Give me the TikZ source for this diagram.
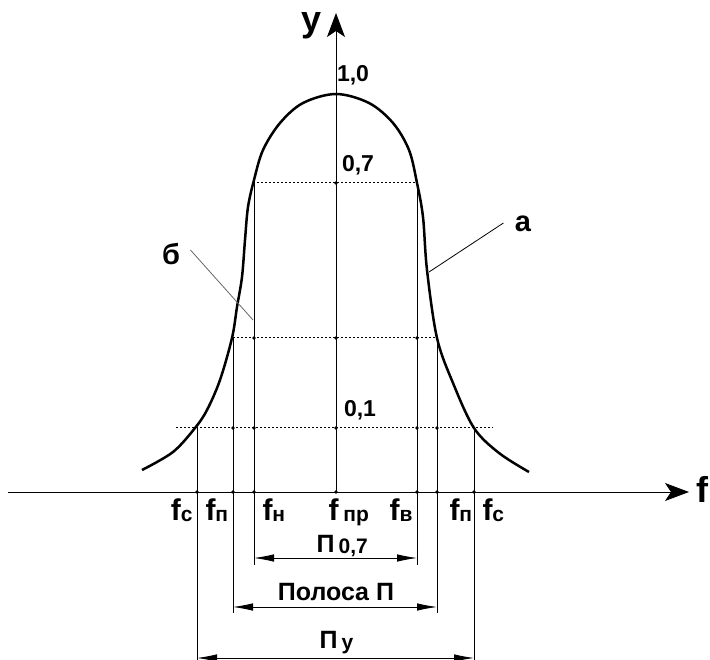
\documentclass[tikz,border=0pt]{standalone}
\usepackage{fontspec}
\setmainfont{Liberation Sans}
\usetikzlibrary{arrows.meta,calc}

% subscript set in a smaller size
\newcommand{\sbs}[1]{\raisebox{-1.5pt}{\fontsize{21}{21}\selectfont #1}}

\begin{document}
\begin{tikzpicture}[x=1pt, y=-1pt, >=Stealth, line width=1pt,
    every node/.style={font=\bfseries\fontsize{25}{27}\selectfont, inner sep=0pt},
    curve/.style={line width=2.5pt, line join=round},
    level/.style={line width=1pt, dash pattern=on 1.5pt off 2.5pt},
    axis/.style={line width=1pt, -{Stealth[length=24pt, width=18pt, inset=6pt]}},
    dimline/.style={line width=0.8pt, {Latex[length=20pt, width=7.5pt]}-{Latex[length=20pt, width=7.5pt]}},
    pointer/.style={line width=0.8pt},
    flabel/.style={font=\bfseries\fontsize{30}{32}\selectfont}]
    \useasboundingbox (0,0) rectangle (710,660);

    % axes
    \coordinate (O) at (336,492);
    \coordinate (XStart) at (8,492);
    \coordinate (XEnd) at (689,492);
    \coordinate (YEnd) at (336,13);
    \draw[axis] (XStart) -- (XEnd);
    \draw[axis] (O) -- (YEnd);
    \node[font=\bfseries\fontsize{36}{38}\selectfont] (LabY) at (312,26) {y};
    \node[font=\bfseries\fontsize{36}{38}\selectfont, anchor=east] (LabF) at (709,489) {f};

    % frequencies on the axis
    \coordinate (Fc1) at (197,492);
    \coordinate (Fp1) at (233,492);
    \coordinate (Fn)  at (254,492);
    \coordinate (Fv)  at (417,492);
    \coordinate (Fp2) at (437,492);
    \coordinate (Fc2) at (474,492);

    % levels 0,7 / middle / 0,1
    \coordinate (L07a) at (253,183);  \coordinate (L07b) at (418,183);
    \coordinate (Lmda) at (233,338);  \coordinate (Lmdb) at (437,338);
    \coordinate (L01a) at (176,428);  \coordinate (L01b) at (493,428);
    \draw[level] (L07a) -- (L07b);
    \draw[level] (Lmda) -- (Lmdb);
    \draw[level] (L01a) -- (L01b);

    % resonance curve
    \draw[curve] plot[smooth, tension=0.55] coordinates {
        (142,470) (173,452) (195,428) (207,410) (220,380) (232,338)
        (237,307) (242,277) (245,240) (248,207) (254,180) (263,150)
        (280,123) (303,103) (336,94) (369,103) (393,123) (409,150)
        (417,183) (423,217) (427,270) (437,338) (453,383) (474,428)
        (499,453) (529,472)};

    % vertical lines
    \draw (Fn |- L07a) -- ($(Fn)+(0,73)$) coordinate (Fn0);
    \draw (Fv |- L07a) -- ($(Fv)+(0,73)$) coordinate (Fv0);
    \draw (Fp1 |- Lmda) -- ($(Fp1)+(0,121)$) coordinate (Fp10);
    \draw (Fp2 |- Lmda) -- ($(Fp2)+(0,121)$) coordinate (Fp20);
    \draw (Fc1 |- L01a) -- ($(Fc1)+(0,170)$) coordinate (Fc10);
    \draw (Fc2 |- L01a) -- ($(Fc2)+(0,170)$) coordinate (Fc20);

    % dots on crossings
    \foreach \p in {Fc1,Fp1,Fn,O,Fv,Fp2,Fc2}
        \fill (\p) circle (1.8pt);
    \foreach \p in {Fp1,Fn,O,Fv,Fp2}
        \fill (\p |- L01a) circle (1.8pt);
    \foreach \p in {Fn,O,Fv}
        \fill (\p |- Lmda) circle (1.8pt);
    \fill (O |- L07a) circle (1.8pt);

    % level values
    \node[font=\bfseries\fontsize{23}{25}\selectfont] (Lab10) at (353,75) {1,0};
    \node[font=\bfseries\fontsize{23}{25}\selectfont] (Lab07) at (358,165) {0,7};
    \node[font=\bfseries\fontsize{23}{25}\selectfont] (Lab01) at (360,410) {0,1};

    % curve names
    \node[font=\bfseries\fontsize{29}{31}\selectfont] (LabA) at (523,224) {а};
    \node[font=\bfseries\fontsize{29}{31}\selectfont] (LabB) at (171,254) {б};
    \coordinate (PtA) at (429,272);
    \coordinate (PtB) at (253,320);
    \draw[pointer] ([xshift=-11pt, yshift=1pt]LabA.west) -- (PtA);
    \draw[pointer, black!60] ([xshift=10pt, yshift=4pt]LabB.east) -- (PtB);

    % frequency labels
    \node[flabel, anchor=base east] (TxtFc1) at (193,520) {f\sbs{с}};
    \node[flabel, anchor=base west] (TxtFp1) at (205,520) {f\sbs{п}};
    \node[flabel, anchor=base west] (TxtFn)  at (262,520) {f\sbs{н}};
    \node[flabel, anchor=base west] (TxtFpr) at (328,520) {f\,\sbs{пр}};
    \node[flabel, anchor=base east] (TxtFv)  at (413,520) {f\sbs{в}};
    \node[flabel, anchor=base west] (TxtFp2) at (449,520) {f\sbs{п}};
    \node[flabel, anchor=base west] (TxtFc2) at (482,520) {f\sbs{с}};

    % bandwidth dimensions
    \draw[dimline] ($(Fn0)+(0,-7)$) coordinate (D1a) -- ($(Fv0)+(0,-7)$) coordinate (D1b);
    \node[anchor=base west] (TxtP07) at (316,552) {П\,\sbs{0,7}};
    \draw[dimline] ($(Fp10)+(0,-6)$) coordinate (D2a) -- ($(Fp20)+(0,-6)$) coordinate (D2b);
    \node[anchor=base] (TxtPol) at (336,600) {Полоса П};
    \draw[dimline] ($(Fc10)+(0,-4)$) coordinate (D3a) -- ($(Fc20)+(0,-4)$) coordinate (D3b);
    \node[anchor=base west] (TxtPy) at (319,648) {П\,\sbs{у}};
\end{tikzpicture}
\end{document}
